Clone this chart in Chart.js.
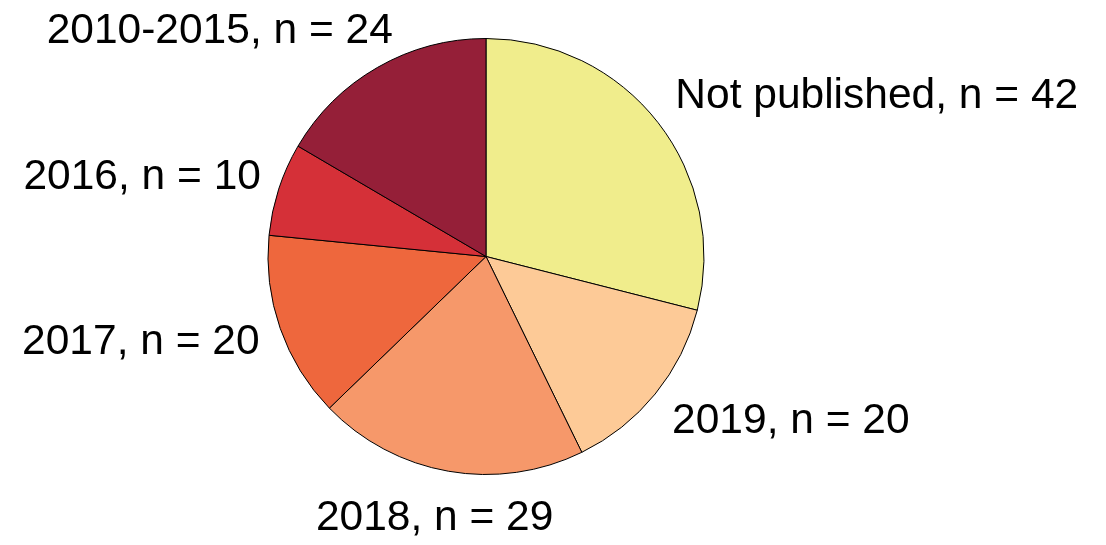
<!doctype html>
<html>
<head>
<meta charset="utf-8" />
<title>Publication year pie</title>
<style>
  body { margin: 0; background: #fff; }
  #wrap { width: 1106px; height: 545px; }
</style>
<script src="https://cdn.jsdelivr.net/npm/chart.js"></script>
</head>
<body>
<div id="wrap"><canvas id="pie" width="1106" height="545"></canvas></div>
<script>
const categories = ['Not published', '2019', '2018', '2017', '2016', '2010-2015'];
const counts = [42, 20, 29, 20, 10, 24];
const colors = ['#F0ED8C', '#FDCA97', '#F6986A', '#EE673D', '#D53038', '#951F38'];

// labels sit just outside the pie, like "2018, n = 29"
const outsideLabels = {
  id: 'outsideLabels',
  afterDatasetsDraw(chart, args, opts) {
    const ctx = chart.ctx;
    const arcs = chart.getDatasetMeta(0).data;
    const nudge = opts.nudge || {};
    ctx.save();
    ctx.font = '42.5px "Liberation Sans", Arial, sans-serif';
    ctx.fillStyle = '#000';
    ctx.textBaseline = 'middle';
    arcs.forEach((arc, i) => {
      const p = arc.getProps(['x', 'y', 'startAngle', 'endAngle', 'outerRadius'], true);
      const mid = (p.startAngle + p.endAngle) / 2;
      const cx = Math.cos(mid), cy = Math.sin(mid);
      const [dx, dy] = nudge[categories[i]] || [0, 0];
      const tx = p.x + cx * p.outerRadius * 1.1 + dx;
      const ty = p.y + cy * p.outerRadius * 1.2 + dy;
      ctx.textAlign = Math.abs(cx) < 0.3 ? 'center' : (cx > 0 ? 'left' : 'right');
      ctx.fillText(categories[i] + ', n = ' + counts[i], tx, ty);
    });
    ctx.restore();
  }
};

new Chart(document.getElementById('pie'), {
  type: 'pie',
  data: {
    labels: categories,
    datasets: [{
      data: counts,
      backgroundColor: colors,
      borderColor: '#000',
      borderWidth: 1
    }]
  },
  options: {
    responsive: false,
    animation: false,
    layout: { padding: { top: 38, bottom: 70, left: 267, right: 401 } },
    plugins: {
      legend: { display: false },
      tooltip: { enabled: false },
      outsideLabels: { nudge: { '2010-2015': [26, 2], '2018': [-10, 4], '2016': [3, 2] } }
    }
  },
  plugins: [outsideLabels]
});
</script>
</body>
</html>
